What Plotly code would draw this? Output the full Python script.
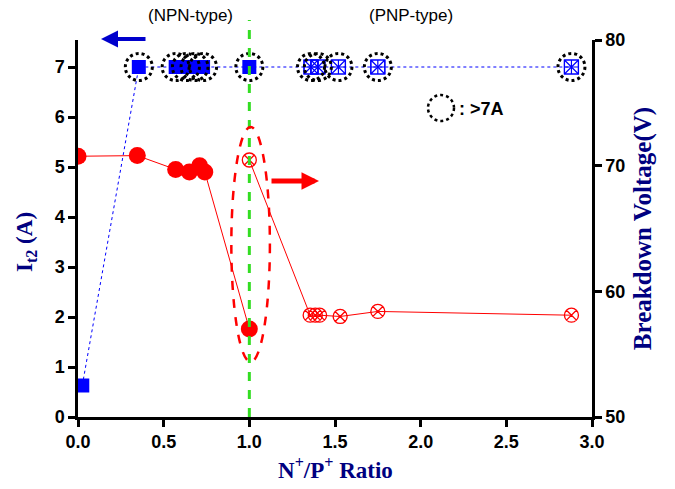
import plotly.graph_objects as go

# N+/P+ ratio sweep: second-breakdown current (left axis) and breakdown voltage (right axis)
it2_ratio = [0.025, 0.355, 0.57, 0.63, 0.68, 0.73, 1.0, 1.36, 1.40, 1.52, 1.75, 2.88]
it2_amps = [0.63, 7.0, 7.0, 7.0, 7.0, 7.0, 7.0, 7.0, 7.0, 7.0, 7.0, 7.0]
it2_over7 = [False, True, True, True, True, True, True, True, True, True, True, True]

bv_npn_ratio = [0.0, 0.346, 0.57, 0.65, 0.71, 0.74, 1.0]
bv_npn_volts = [70.75, 70.8, 69.7, 69.5, 70.0, 69.5, 57.0]
bv_pnp_ratio = [1.0, 1.355, 1.385, 1.41, 1.53, 1.75, 2.88]
bv_pnp_volts = [70.45, 58.1, 58.1, 58.1, 58.0, 58.4, 58.1]

x_ticks = [0.0, 0.5, 1.0, 1.5, 2.0, 2.5, 3.0]
left_ticks = [0, 1, 2, 3, 4, 5, 6, 7]
right_ticks = [50, 60, 70, 80]

BLUE = "#0000ff"
RED = "#ff0000"
NAVY = "#000080"
GREEN = "#33dd22"
SANS = "Liberation Sans, Arial"
SERIF = "Liberation Serif, Times New Roman"
TICK_FONT = dict(family=SANS, size=18, color="black", weight="bold")

# plot-area geometry in pixels (used to place free-floating decorations)
W, H = 675, 489
ML, MR, MT, MB = 78, 83, 40, 72
PW, PH = W - ML - MR, H - MT - MB


def px_to_paper(px, py):
    return (px - ML) / PW, (H - MB - py) / PH


fig = go.Figure()

n_filled = 7
# blue I_t2 line and markers
fig.add_trace(go.Scatter(
    x=it2_ratio, y=it2_amps, mode="lines",
    line=dict(color=BLUE, width=1, dash="dot"), showlegend=False, hoverinfo="skip"))
fig.add_trace(go.Scatter(
    x=it2_ratio[:n_filled], y=it2_amps[:n_filled], mode="markers",
    marker=dict(symbol="square", size=14, color=BLUE), showlegend=False))
fig.add_trace(go.Scatter(
    x=it2_ratio[n_filled:], y=it2_amps[n_filled:], mode="markers",
    marker=dict(symbol="square-x-open", size=14, color=BLUE, line=dict(width=1.2, color=BLUE)),
    showlegend=False))
fig.add_trace(go.Scatter(
    x=it2_ratio[n_filled:], y=it2_amps[n_filled:], mode="markers",
    marker=dict(symbol="square-cross-open", size=14, color=BLUE, line=dict(width=1.2, color=BLUE)),
    showlegend=False))

# red breakdown-voltage series
fig.add_trace(go.Scatter(
    x=bv_npn_ratio, y=bv_npn_volts, yaxis="y2", mode="lines+markers",
    line=dict(color=RED, width=1),
    marker=dict(symbol="circle", size=17, color=RED), showlegend=False))
fig.add_trace(go.Scatter(
    x=bv_pnp_ratio, y=bv_pnp_volts, yaxis="y2", mode="lines+markers",
    line=dict(color=RED, width=1),
    marker=dict(symbol="circle-x-open", size=14, color=RED, line=dict(width=1.3, color=RED)),
    showlegend=False))

shapes = []
# dotted rings flagging I_t2 > 7 A
for xv, yv, flag in zip(it2_ratio, it2_amps, it2_over7):
    if flag:
        shapes.append(dict(
            type="circle", xref="x", yref="y", xsizemode="pixel", ysizemode="pixel",
            xanchor=xv, yanchor=yv, x0=-13.5, x1=13.5, y0=-13.5, y1=13.5,
            line=dict(color="black", width=3, dash="dot")))

# green divider at N+/P+ = 1
gx = 1.0 / 3.0
shapes.append(dict(type="line", xref="paper", yref="paper", x0=gx, x1=gx, y0=0,
                   y1=px_to_paper(0, 20)[1], line=dict(color=GREEN, width=3, dash="dash")))
# red dashed ellipse around the ratio-1 points
shapes.append(dict(type="circle", xref="x", yref="y", x0=0.895, x1=1.12, y0=1.1, y1=5.8,
                   line=dict(color=RED, width=2.5, dash="dash")))
# legend ring
lx, ly = px_to_paper(441, 108)
shapes.append(dict(type="circle", xref="paper", yref="paper", xsizemode="pixel", ysizemode="pixel",
                   xanchor=lx, yanchor=ly, x0=-13, x1=13, y0=-13, y1=13,
                   line=dict(color="black", width=2.5, dash="dot")))

annotations = []
for text, cx in [("(NPN-type)", 190), ("(PNP-type)", 411)]:
    ax_, ay_ = px_to_paper(cx, 15)
    annotations.append(dict(text=text, xref="paper", yref="paper", x=ax_, y=ay_,
                            xanchor="center", yanchor="middle", showarrow=False,
                            font=dict(family=SANS, size=17, color="black")))
tx, ty = px_to_paper(457, 109)
annotations.append(dict(text="<b>: >7A</b>", xref="paper", yref="paper", x=tx, y=ty,
                        xanchor="left", yanchor="middle", showarrow=False,
                        font=dict(family=SANS, size=18, color="black")))
# left axis title
lt_x, lt_y = px_to_paper(26, 242)
annotations.append(dict(text="<b>I<sub>t2</sub> (A)</b>", xref="paper", yref="paper",
                        x=lt_x, y=lt_y, xanchor="center", yanchor="middle", textangle=-90,
                        showarrow=False, font=dict(family=SERIF, size=23, color=NAVY)))
# bottom axis title
xt_x, xt_y = px_to_paper(335, 468)
annotations.append(dict(text="<b>N<sup>+</sup>/P<sup>+</sup> Ratio</b>", xref="paper", yref="paper",
                        x=xt_x, y=xt_y, xanchor="center", yanchor="middle",
                        showarrow=False, font=dict(family=SERIF, size=23, color=NAVY)))
# direction arrows pointing at the relevant axis
bx, by = px_to_paper(101, 39)
annotations.append(dict(text="", xref="paper", yref="paper", x=bx, y=by, ax=46, ay=0,
                        showarrow=True, arrowhead=2, arrowsize=0.85, arrowwidth=4, arrowcolor="#0000cc"))
rx, ry = px_to_paper(319, 181)
annotations.append(dict(text="", xref="paper", yref="paper", x=rx, y=ry, ax=-49, ay=0,
                        showarrow=True, arrowhead=2, arrowsize=0.7, arrowwidth=5, arrowcolor=RED))

axis_common = dict(showline=True, linecolor="black", linewidth=2.5, ticks="outside",
                   ticklen=7, tickwidth=2.5, tickcolor="black", showgrid=False,
                   zeroline=False, tickfont=TICK_FONT, automargin=False)

fig.update_layout(
    width=W, height=H, margin=dict(l=ML, r=MR, t=MT, b=MB, autoexpand=False),
    plot_bgcolor="white", paper_bgcolor="white",
    xaxis=dict(range=[0, 3.0], tickvals=x_ticks, tickformat=".1f", **axis_common),
    yaxis=dict(range=[0, 7.54], tickvals=left_ticks, **axis_common),
    yaxis2=dict(range=[50, 80], tickvals=right_ticks, overlaying="y", side="right",
                title=dict(text="<b>Breakdown Voltage(V)</b>",
                           font=dict(family=SERIF, size=25, color=NAVY), standoff=10),
                **axis_common),
    shapes=shapes, annotations=annotations, showlegend=False,
)

fig.write_html("out.html")
